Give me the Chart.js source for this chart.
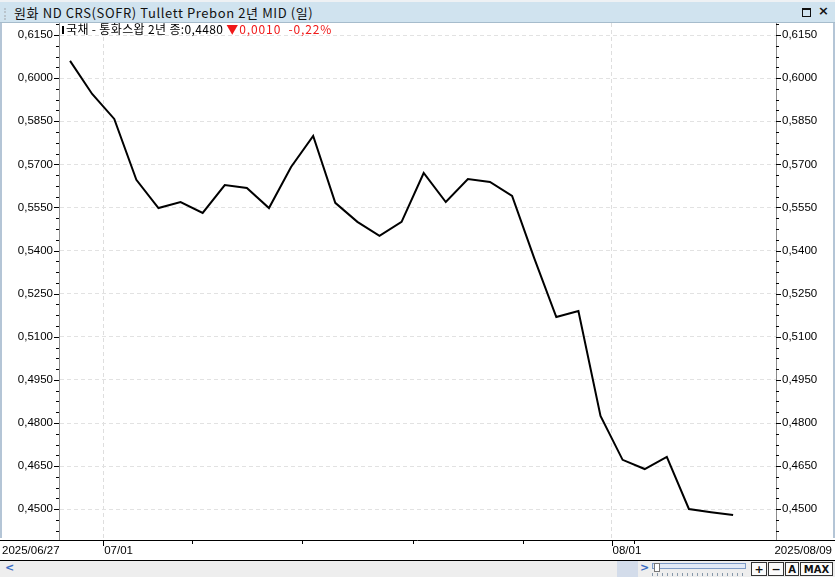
<!DOCTYPE html>
<html><head><meta charset="utf-8">
<script src="https://cdn.jsdelivr.net/npm/chart.js@4.4.1/dist/chart.umd.min.js"></script>
<style>
html,body{margin:0;padding:0;background:#fff;}
#wrap{position:relative;width:835px;height:577px;overflow:hidden;background:#fff;font-family:"Noto Sans CJK KR",sans-serif;}
#titlebar{position:absolute;left:0;top:0;width:835px;height:23px;background:#d0e3ef;border-top:2px solid #eef1f4;border-bottom:1px solid #a6bccc;box-sizing:border-box;}
#grip{position:absolute;left:4px;top:6px;width:0;height:12px;border-left:2px dotted #b9c4cc;}
#title{position:absolute;left:14px;top:3px;font-size:13px;line-height:16px;letter-spacing:0.6px;color:#111;white-space:nowrap;}
#maxbtn{position:absolute;left:802px;top:6px;width:7px;height:6px;border:1px solid #111;border-top-width:2px;}
#closebtn{position:absolute;left:818px;top:1px;font:bold 13px "DejaVu Sans",sans-serif;color:#111;}
canvas#c{position:absolute;left:0;top:23px;}
.strip{position:absolute;top:23px;height:515px;width:2px;background:#b4c5d6;}
#legend{position:absolute;left:62px;top:22px;font-size:12px;line-height:14px;letter-spacing:0.35px;white-space:nowrap;color:#000;}
#legbar{display:inline-block;width:2px;height:8px;background:#000;margin-right:2px;vertical-align:0px;}
#legred{color:#f01818;letter-spacing:0.9px;}
#scroll{position:absolute;left:0;top:560px;width:835px;height:17px;background:#eeeeee;border-top:1px solid #000;box-sizing:border-box;}
.arr{position:absolute;top:0px;font:bold 11px "DejaVu Sans",sans-serif;color:#3a6cc4;}
#bluesq{position:absolute;left:617px;top:0;width:21px;height:16px;background:#d3dcea;}
#track{position:absolute;left:652px;top:2px;width:92px;height:4px;border:1px solid #7f9cc7;background:#e2eaf6;}
#knob{position:absolute;left:654px;top:2px;width:4px;height:7px;border:1px solid #777;background:#fff;}
#dots{position:absolute;left:652px;top:12px;width:93px;height:3px;background:repeating-linear-gradient(90deg,#8899aa 0 1px,transparent 1px 5px);}
.btn{position:absolute;top:1px;height:14px;border:1px solid #333;background:#fbfbfb;font:bold 11px "DejaVu Sans",sans-serif;line-height:14px;text-align:center;color:#111;box-sizing:border-box;}
</style></head>
<body>
<div id="wrap">
  <div id="titlebar"><div id="grip"></div><div id="title">원화 ND CRS(SOFR) Tullett Prebon 2년 MID (일)</div><div id="maxbtn"></div><div id="closebtn">×</div></div>
  <canvas id="c" width="835" height="537"></canvas>
  <div class="strip" style="left:0"></div>
  <div class="strip" style="left:833px"></div>
  <div id="legend"><span id="legbar"></span>국채 - 통화스왑 2년 종:0,4480 <span id="legred">▼0,0010 &nbsp;-0,22%</span></div>
  <div id="scroll">
    <span class="arr" style="left:5px">&lt;</span>
    <div id="bluesq"></div>
    <span class="arr" style="left:640px">&gt;</span>
    <div id="track"></div><div id="knob"></div><div id="dots"></div>
    <div class="btn" style="left:751px;width:16px">+</div>
    <div class="btn" style="left:768px;width:16px">−</div>
    <div class="btn" style="left:785px;width:14px;font-size:10px">A</div>
    <div class="btn" style="left:800px;width:33px;font-size:10px">MAX</div>
  </div>
</div>
<script>
// ---- data ----
const dates = ['2025/06/27','2025/06/30','2025/07/01','2025/07/02','2025/07/03','2025/07/04',
  '2025/07/07','2025/07/08','2025/07/09','2025/07/10','2025/07/11',
  '2025/07/14','2025/07/15','2025/07/16','2025/07/17','2025/07/18',
  '2025/07/21','2025/07/22','2025/07/23','2025/07/24','2025/07/25',
  '2025/07/28','2025/07/29','2025/07/30','2025/07/31','2025/08/01',
  '2025/08/04','2025/08/05','2025/08/06','2025/08/07','2025/08/08'];
const values = [0.6060,0.5945,0.5858,0.5646,0.5548,0.5569,
  0.5531,0.5628,0.5618,0.5548,0.5691,
  0.5799,0.5566,0.5500,0.5451,0.5500,
  0.5670,0.5569,0.5649,0.5639,0.5590,
  0.5374,0.5169,0.5190,0.4825,0.4672,
  0.4640,0.4682,0.4501,0.4490,0.4480];
const yTicks = [0.4500,0.4650,0.4800,0.4950,0.5100,0.5250,0.5400,0.5550,0.5700,0.5850,0.6000,0.6150];
const monthTicks = ['2025/07/01','2025/08/01'];
const monthLabels = ['07/01','08/01'];
const weekTicks = ['2025/07/07','2025/07/14','2025/07/21','2025/07/28','2025/08/04'];
const startLabel = '2025/06/27';
const endLabel = '2025/08/09';
const yMin = 0.43931, yMax = 0.61918;
const xSlots = 32.44;

// ---- fonts ----
function hasFont(name){
  const c=document.createElement('canvas').getContext('2d');const t='0,6150 2025/06/27';
  c.font='20px monospace';const a=c.measureText(t).width;
  c.font='20px "'+name+'", monospace';const b=c.measureText(t).width;
  return Math.abs(a-b)>0.5;
}
const narrow = hasFont('Liberation Sans Narrow');
const axFamily = narrow ? 'Liberation Sans Narrow' : 'Liberation Sans';
const axSize = narrow ? 13 : 11.5;
const axFont = axSize+'px "'+axFamily+'"';
const fmt = v => Number(v).toFixed(4).replace('.',',');

const chrome = {
  id:'chrome',
  afterDraw(chart){
    const ctx=chart.ctx, a=chart.chartArea, ys=chart.scales.y, xs=chart.scales.x;
    ctx.save();
    ctx.strokeStyle='#000';ctx.lineWidth=1;
    // y tick marks (major & minor)
    const step=(yTicks[1]-yTicks[0])/4;
    ctx.beginPath();
    for(let v=yTicks[0]-step*4; v<=yMax+1e-9; v+=step){
      if(v<yMin) continue;
      const k=Math.round((v-yTicks[0])/step);
      const len=(k%4===0)?5:3;
      const py=Math.round(ys.getPixelForValue(v))+0.5;
      ctx.moveTo(a.left-len,py);ctx.lineTo(a.left,py);
      ctx.moveTo(a.right,py);ctx.lineTo(a.right+len,py);
    }
    ctx.stroke();
    // x axis line full width
    ctx.beginPath();
    ctx.moveTo(0,a.bottom+0.5);ctx.lineTo(chart.width,a.bottom+0.5);
    // x tick marks
    monthTicks.forEach(d=>{const px=Math.round(xs.getPixelForValue(dates.indexOf(d)))+0.5;ctx.moveTo(px,a.bottom);ctx.lineTo(px,a.bottom+6);});
    weekTicks.forEach(d=>{const px=Math.round(xs.getPixelForValue(dates.indexOf(d)))+0.5;ctx.moveTo(px,a.bottom);ctx.lineTo(px,a.bottom+4);});
    ctx.stroke();
    // x labels
    ctx.fillStyle='#000';ctx.font=axFont;ctx.textBaseline='middle';
    const ly=a.bottom+10.5;
    ctx.textAlign='left';
    monthTicks.forEach((d,i)=>{ctx.fillText(monthLabels[i], xs.getPixelForValue(dates.indexOf(d))+1, ly);});
    ctx.fillText(startLabel,2,ly);
    ctx.textAlign='right';
    ctx.fillText(endLabel,chart.width-3,ly);
    ctx.restore();
  }
};

const yCommon = {
  min:yMin, max:yMax,
  afterBuildTicks: s => { s.ticks = yTicks.map(v=>({value:v})); },
  ticks:{ callback: v=>fmt(v), font:{family:axFamily, size:axSize}, color:'#000', padding:6 },
  border:{ color:'#8c8c8c', width:1, dash:[4,3] },
  afterFit: s => { s.width=59; s.paddingTop=0; s.paddingBottom=0; }
};

new Chart(document.getElementById('c'), {
  type:'line',
  data:{ datasets:[{ data: values.map((v,i)=>({x:i+0.5,y:v})), borderColor:'#000', borderWidth:2, pointRadius:0, tension:0, fill:false }] },
  options:{
    responsive:false, animation:false,
    layout:{padding:0},
    plugins:{legend:{display:false}, tooltip:{enabled:false}},
    scales:{
      x:{ type:'linear', min:0, max:xSlots, position:'bottom',
          afterBuildTicks: s => { s.ticks = monthTicks.map(d=>({value:dates.indexOf(d)})); },
          ticks:{display:false},
          grid:{color:'#dedede', drawTicks:false},
          border:{display:false, dash:[4,3]},
          afterFit: s => { s.height=20; s.paddingLeft=0; s.paddingRight=0; } },
      y: Object.assign({position:'left', grid:{color:'#e2e2e2', drawTicks:false}}, yCommon),
      y2: Object.assign({position:'right', grid:{drawOnChartArea:false, drawTicks:false}}, yCommon)
    }
  },
  plugins:[chrome]
});
</script>
</body></html>
